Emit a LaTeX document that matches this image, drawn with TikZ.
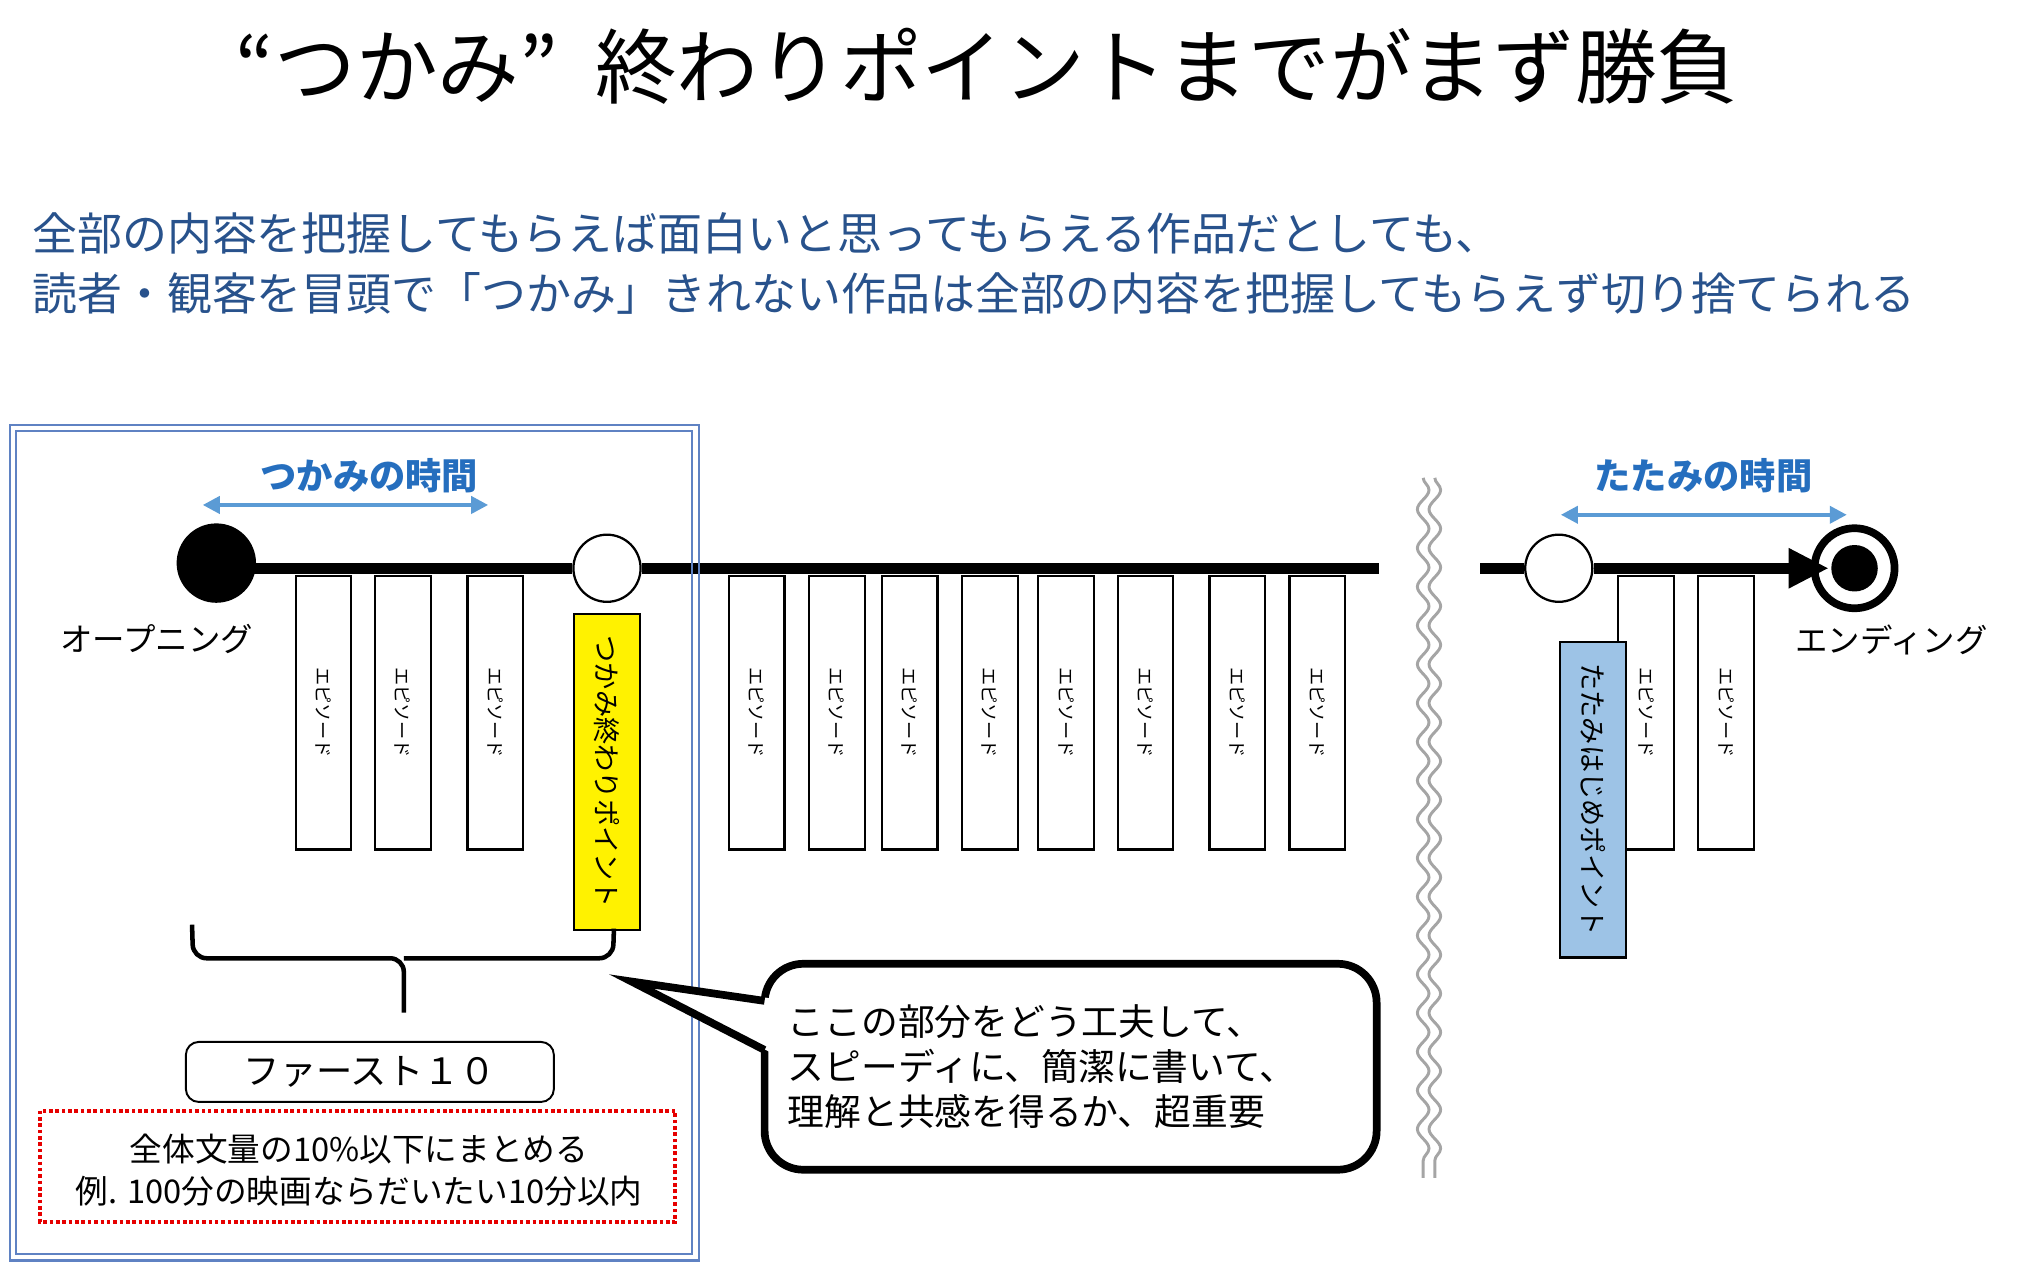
\documentclass[tikz,border=0pt]{standalone}
\usepackage{fontspec}
\setmainfont{Noto Sans CJK JP}
\usetikzlibrary{arrows.meta, decorations.pathmorphing}
\definecolor{leadblue}{RGB}{40,82,140}
\definecolor{spanblue}{RGB}{37,110,190}
\definecolor{arrowblue}{RGB}{91,155,213}
\definecolor{foldblue}{RGB}{157,195,230}
\definecolor{frameblue}{RGB}{95,130,195}
\definecolor{waveblack}{RGB}{165,165,165}
\definecolor{limitred}{RGB}{230,0,0}
\tikzset{txt/.style={inner sep=0pt, font=\fontsize{#1}{#1}\selectfont}}
\tikzset{timeline/.style={line width=5pt}}
\tikzset{span/.style={arrowblue, line width=1.7pt, arrows={Triangle[length=7.5pt,width=7.5pt]-Triangle[length=7.5pt,width=7.5pt]}}}
\tikzset{spanlabel/.style={text=spanblue, inner sep=0pt, font=\fontsize{16}{16}\selectfont\bfseries}}
\tikzset{episode/.style={draw, line width=1pt, fill=white, rotate=-90, anchor=west, minimum width=4.24cm, minimum height=0.86cm, inner sep=0pt, font=\fontsize{8}{8}\selectfont}}
\tikzset{marker/.style={draw, line width=1pt, rotate=-90, anchor=west, minimum width=4.89cm, minimum height=1.02cm, inner sep=0pt, font=\fontsize{12}{12}\selectfont}}
\tikzset{point/.style={circle, draw, fill=white, line width=1pt, minimum size=1.04cm, inner sep=0pt}}
\tikzset{wave/.style={waveblack, line width=1.3pt, decorate, decoration={snake, amplitude=0.9mm, segment length=6mm}}}
\tikzset{frame/.style={frameblue, line width=0.9pt}}
\tikzset{brace/.style={line width=2pt, rounded corners=6pt}}

\begin{document}
\begin{tikzpicture}[x=0.02cm, y=-0.02cm]
    \useasboundingbox (0,0) rectangle (1568,978);
    \node[txt=36] (title) at (764.5,51) {“つかみ”\hspace{0.45em}終わりポイントまでがまず勝負};
    \node[txt=19.8, text=leadblue, anchor=west] (lead1) at (24.7,180.6) {全部の内容を把握してもらえば面白いと思ってもらえる作品だとしても、};
    \node[txt=19.8, text=leadblue, anchor=west] (lead2) at (24.7,227) {読者・観客を冒頭で「つかみ」きれない作品は全部の内容を把握してもらえず切り捨てられる};

    \node[circle, fill=black, minimum size=1.23cm, inner sep=0pt] (open) at (167.5,436) {};
    \node[point] (grab) at (470,440) {};
    \node[point] (fold) at (1207,440) {};
    \node[circle, draw, fill=white, line width=3.4pt, minimum size=1.24cm, inner sep=0pt] (end) at (1436,440) {};
    \node[circle, fill=black, minimum size=0.72cm, inner sep=0pt] (enddot) at (end) {};
    \coordinate (cut1) at (1068,440);
    \coordinate (cut2) at (1146,440);
    \draw[timeline] (open.center |- grab) -- (grab);
    \draw[timeline] (grab) -- (cut1);
    \draw[timeline] (cut2) -- (fold);
    \draw[timeline, -{Triangle[length=0.62cm,width=0.58cm]}, shorten >=-0.28cm] (fold) -- (end);

    \node[txt=14.3] (opening) at (121.5,495) {オープニング};
    \node[txt=14.3] (ending) at (1464.5,495.5) {エンディング};

    \node[spanlabel] (grablabel) at (286,368) {つかみの時間};
    \coordinate (ga) at (157,391);
    \coordinate (gb) at (378,391);
    \draw[span] (ga) -- (gb);
    \node[spanlabel] (foldlabel) at (1319,368) {たたみの時間};
    \coordinate (ta) at (1208.6,398.6);
    \coordinate (tb) at (1430,398.6);
    \draw[span] (ta) -- (tb);

    \foreach \x [count=\i] in {250.5,312,383.5,586,648,704.5,766.5,825.5,887,958,1020,1274.5,1336.5}
        \node[episode] (ep\i) at (\x,445) {エピソード};
    \node[marker, fill=yellow] (grabend) at (470.2,474.5) {つかみ終わりポイント};
    \node[marker, fill=foldblue] (foldstart) at (1233.3,496) {たたみはじめポイント};

    \draw[wave] (1102,370) -- (1102,912);
    \draw[wave] (1111,370) -- (1111,912);

    \draw[brace] (148.7,716) -- (149.5,742) -- (312.7,742) -- (312.7,784);
    \draw[brace] (475.4,719) -- (474.6,742) -- (312.7,742);
    \node[draw, rounded corners=0.2cm, line width=0.85pt, minimum width=5.7cm, minimum height=0.93cm, inner sep=0pt, font=\fontsize{16}{16}\selectfont] (first) at (286.4,830) {ファースト１０};
    \draw[limitred, line width=1.8pt, dash pattern=on 1.6pt off 1.2pt] (31,860) rectangle (523,946);
    \node[inner sep=0pt, align=center, font=\fontsize{14.4}{18.3}\selectfont] (limit) at (278,906) {全体文量の10\%以下にまとめる\\例. 100分の映画ならだいたい10分以内};

    \draw[frame] (8,329) rectangle (541,976);
    \draw[frame] (12.5,334) rectangle (536,971);

    \node[draw, fill=white, line width=3.4pt, rounded corners=0.6cm, minimum width=9.48cm, minimum height=3.19cm, text width=8.76cm, inner xsep=0.36cm, align=left, font=\fontsize{16.2}{19.8}\selectfont] (note) at (829,826) {ここの部分をどう工夫して、\\スピーディに、簡潔に書いて、\\理解と共感を得るか、超重要};
    \coordinate (tailtop) at (592,775);
    \coordinate (tailbot) at (592,813);
    \coordinate (tailtip) at (489,760);
    \fill[white] (597,773) -- (tailtip) -- (597,815) -- cycle;
    \draw[line width=3.4pt] (tailtop) -- (tailtip) -- (tailbot);
\end{tikzpicture}
\end{document}
